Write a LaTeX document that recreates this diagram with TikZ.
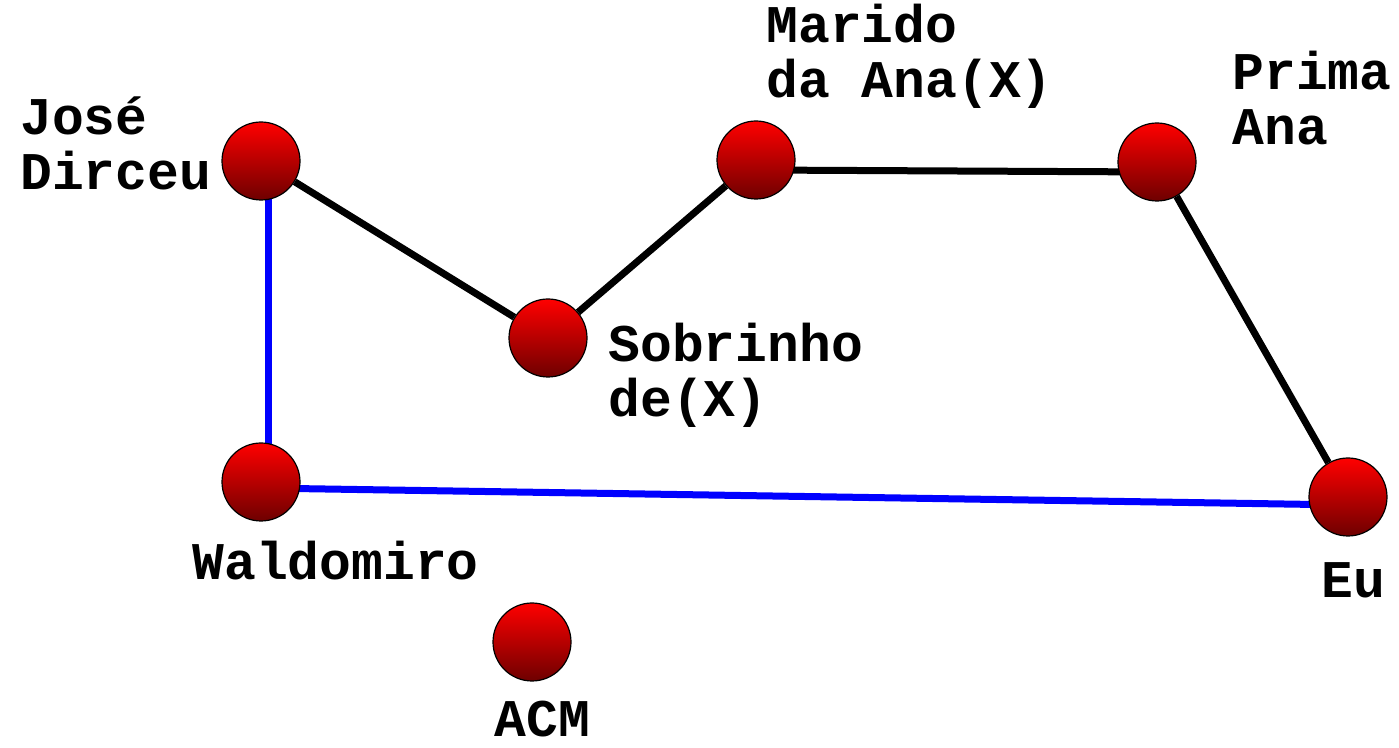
\documentclass[tikz,border=0pt]{standalone}
\usepackage{fontspec}
\setmonofont{Liberation Mono}
\usetikzlibrary{backgrounds}
\definecolor{ballTop}{HTML}{FF0000}
\definecolor{ballBot}{HTML}{6E0000}
\tikzset{
  ball/.style   ={circle, draw=black, line width=0.6pt, minimum size=39pt,
                  inner sep=0pt, top color=ballTop, bottom color=ballBot},
  % base of a two-line label is the baseline of its last line
  lbl/.style    ={anchor=base west, inner sep=0pt, align=left,
                  font=\ttfamily\bfseries\fontsize{26.5}{27.5}\selectfont},
  tie/.style    ={draw=black, line width=3.5pt},
  bluetie/.style={draw=blue, line width=3.5pt},
}
\def\balllist{jd/261/161, sob/548/338, mar/756/160, pri/1157/162,
              wal/261/482, eu/1348/497, acm/532/642}
\def\blacklinks{jd/sob, sob/mar, pri/eu}

\begin{document}
\begin{tikzpicture}[x=0.5pt,y=-0.5pt]
  \useasboundingbox (0,0) rectangle (1399,748);
  \foreach \n/\x/\y in \balllist {\node[ball] (\n) at (\x,\y) {};}
  \node[lbl] (jdL)  at (20,190)   {José\\Dirceu};
  \node[lbl] (marL) at (766,98)   {Marido\\da Ana(X)};
  \node[lbl] (priL) at (1232,145) {Prima\\Ana};
  \node[lbl] (sobL) at (608,417)  {Sobrinho\\de(X)};
  \node[lbl] (walL) at (192,580)  {Waldomiro};
  \node[lbl] (euL)  at (1321,598) {Eu};
  \node[lbl] (acmL) at (494,736)  {ACM};
  \begin{scope}[on background layer]
    \foreach \a/\b in \blacklinks {\draw[tie] (\a) -- (\b);}
    \draw[tie] ([yshift=-5pt]mar.center) -- ([yshift=-5pt]pri.center);
    \draw[bluetie] ([xshift=3.5pt]jd.center) -- ([xshift=3.5pt]wal.center);
    \draw[bluetie] ([yshift=-3pt]wal.center) -- ([yshift=-4pt]eu.center);
  \end{scope}
\end{tikzpicture}
\end{document}
